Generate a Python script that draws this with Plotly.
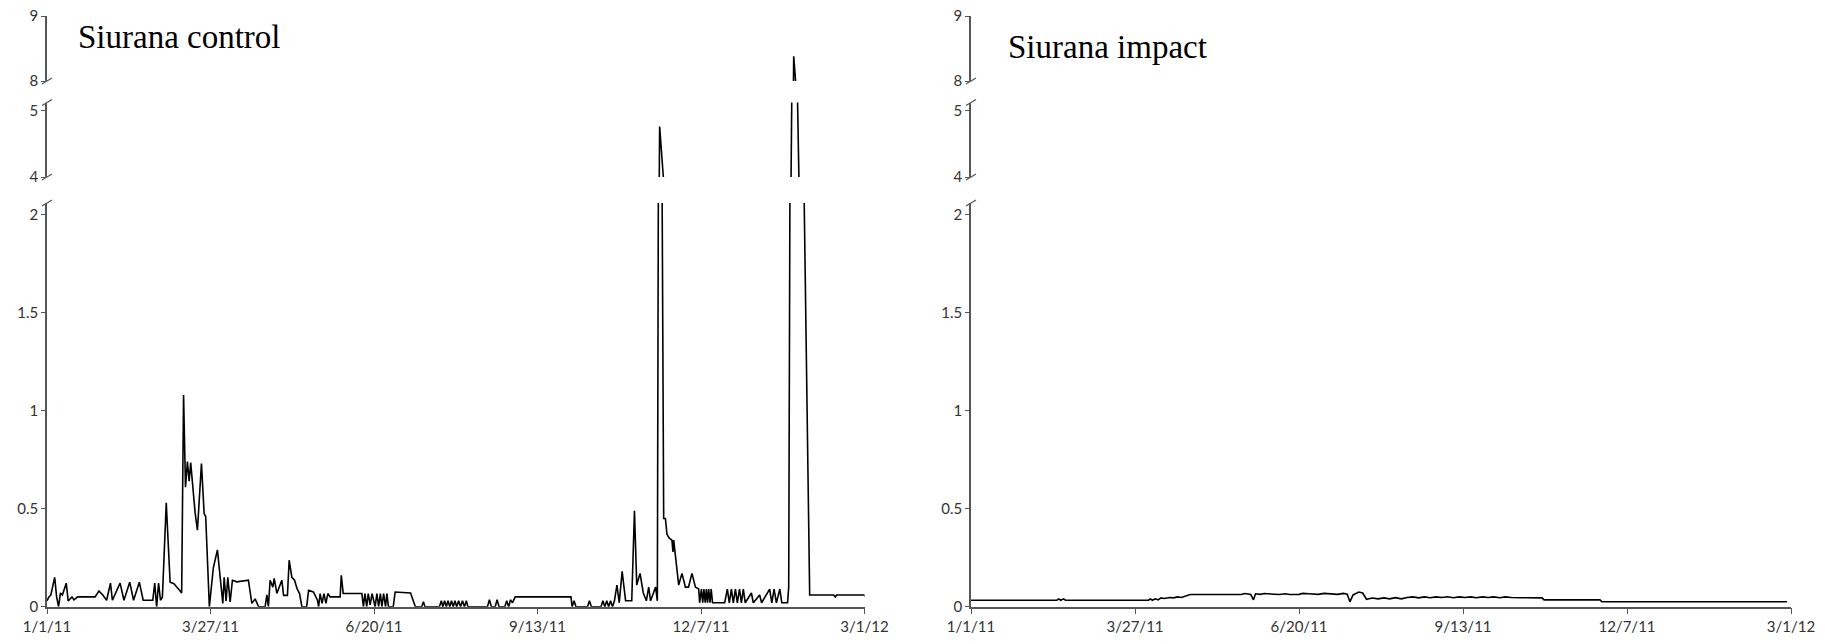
import pandas as pd
from plotly import graph_objs as go

# days after 1/1/11 and the value
control_day = [
    0, 1, 2, 4, 5, 6, 7, 8, 10, 11, 13, 14, 16, 25, 27, 29, 31, 33, 34, 38, 40, 43, 45, 48, 50,
    55, 56, 57, 58, 59, 60, 62, 64, 66, 69, 70, 71, 72, 73, 73.9, 74.7, 75.6, 77, 78.2, 80.3,
    81.7, 82.5, 84.4, 86.5, 88.6, 90.3, 91.4, 92.1, 93.1, 94, 95.2, 96.4, 98.7, 104.7, 106.5,
    108.2, 110, 113.4, 114.3, 115.1, 116, 117.4, 118.1, 119.5, 122.1, 123, 125, 125.9, 127.3,
    128.7, 130, 131.3, 132.5, 135, 136, 138.5, 140.6, 141.2, 142, 143, 144, 145, 146, 147.2,
    152.4, 153, 154, 163.7, 164.5, 165.3, 166.2, 167, 168, 169, 170.6, 171.5, 172.4, 173.3,
    174.1, 175, 176, 176.7, 177.5, 180, 181, 189, 191.5, 194.8, 195.7, 196.5, 204, 205, 205.8,
    206.7, 207.6, 208.5, 209.4, 210.3, 211.2, 212.1, 213, 214, 215, 216, 217, 218, 218.8, 229,
    230, 231, 233, 234, 235, 238, 239, 240, 241, 242, 243.4, 272.4, 273, 274, 275, 281, 282,
    283, 288, 289, 290, 291, 292, 293, 294, 295, 296.3, 297.5, 299, 300.8, 304, 305.4, 306.6,
    308.3, 310, 311.6, 312.8, 313.8, 316.4, 317.3, 318.5, 320.6, 321.5, 322.3, 323.5, 324.9,
    325.4, 325.8, 328.4, 330.1, 331.9, 333.5, 335.3, 337.1, 338.8, 339.3, 340.2, 340.9, 341.5,
    342.2, 342.8, 343.4, 344, 344.7, 345.3, 346, 352.3, 353.7, 354.7, 355.8, 356.8, 357.9,
    358.9, 360, 361, 362, 363, 366.2, 367.2, 370.5, 371.5, 375.7, 376.8, 378, 379.2, 381,
    382, 385, 385.6, 388.2, 390.9, 396.5, 409, 409.8, 410.5, 425, 425.5,
]
control_val = [
    0.03, 0.05, 0.06, 0.15, 0.05, 0.0, 0.07, 0.06, 0.12, 0.03, 0.05, 0.035, 0.05, 0.05, 0.08,
    0.06, 0.033, 0.12, 0.033, 0.12, 0.033, 0.125, 0.033, 0.125, 0.033, 0.033, 0.12, 0.0, 0.12,
    0.033, 0.05, 0.53, 0.125, 0.117, 0.083, 0.07, 1.08, 0.61, 0.74, 0.64, 0.735, 0.625, 0.48,
    0.39, 0.73, 0.475, 0.46, 0.0, 0.2, 0.29, 0.135, 0.017, 0.15, 0.03, 0.15, 0.025, 0.135,
    0.127, 0.135, 0.017, 0.04, 0.0, 0.0, 0.06, 0.0, 0.135, 0.1, 0.145, 0.068, 0.135, 0.058,
    0.058, 0.237, 0.15, 0.135, 0.092, 0.067, 0.0, 0.0, 0.083, 0.075, 0.033, 0.0, 0.067, 0.017,
    0.067, 0.017, 0.067, 0.05, 0.05, 0.16, 0.067, 0.067, 0.0, 0.067, 0.0, 0.067, 0.01, 0.067,
    0.0, 0.067, 0.0, 0.067, 0.0, 0.067, 0.0, 0.067, 0.0, 0.0, 0.075, 0.07, 0.0, 0.0, 0.025,
    0.0, 0.0, 0.03, 0.0, 0.03, 0.0, 0.03, 0.0, 0.03, 0.0, 0.03, 0.0, 0.03, 0.0, 0.03, 0.0,
    0.03, 0.0, 0.0, 0.035, 0.0, 0.0, 0.035, 0.0, 0.0, 0.03, 0.0, 0.035, 0.02, 0.05, 0.05, 0.0,
    0.03, 0.0, 0.0, 0.03, 0.0, 0.0, 0.03, 0.0, 0.03, 0.0, 0.03, 0.0, 0.03, 0.11, 0.02, 0.18,
    0.03, 0.03, 0.49, 0.11, 0.17, 0.07, 0.03, 0.1, 0.03, 0.1, 0.03, 4.76, 0.45, 0.45, 0.37,
    0.35, 0.34, 0.28, 0.34, 0.11, 0.17, 0.1, 0.1, 0.17, 0.1, 0.09, 0.02, 0.09, 0.02, 0.09,
    0.02, 0.09, 0.02, 0.09, 0.02, 0.09, 0.02, 0.02, 0.09, 0.02, 0.09, 0.02, 0.09, 0.02, 0.09,
    0.02, 0.09, 0.02, 0.07, 0.02, 0.06, 0.02, 0.09, 0.02, 0.09, 0.02, 0.09, 0.02, 0.02, 0.1,
    8.38, 4.0, 0.06, 0.06, 0.05, 0.06, 0.06, 0.05,
]

impact_day = [
    0, 44.5, 45.5, 46.5, 48, 49, 92, 93, 94, 95.5, 97, 98.5, 100, 103, 105, 107, 109, 111,
    113.6, 140, 142, 145, 146.4, 147.5, 150, 152, 155, 160, 163, 165, 170, 172, 175, 180, 183,
    187, 190, 193, 195, 196.4, 198, 201, 203, 205, 208, 211, 214, 217, 220, 223, 226, 229, 232,
    235, 238, 241, 244, 247, 250, 253, 256, 259, 262, 265, 268, 271, 274, 277, 280, 285, 296,
    297, 326, 327, 423,
]
impact_val = [
    0.033, 0.033, 0.04, 0.033, 0.04, 0.033, 0.033, 0.04, 0.033, 0.04, 0.035, 0.045, 0.042,
    0.047, 0.045, 0.05, 0.047, 0.055, 0.062, 0.062, 0.067, 0.062, 0.035, 0.066, 0.063, 0.067,
    0.064, 0.062, 0.066, 0.062, 0.063, 0.068, 0.066, 0.063, 0.068, 0.066, 0.063, 0.068, 0.064,
    0.025, 0.06, 0.075, 0.07, 0.038, 0.044, 0.04, 0.045, 0.04, 0.046, 0.04, 0.047, 0.05, 0.045,
    0.05, 0.046, 0.05, 0.047, 0.051, 0.046, 0.05, 0.047, 0.05, 0.046, 0.05, 0.047, 0.05, 0.046,
    0.05, 0.047, 0.046, 0.045, 0.035, 0.035, 0.025, 0.025,
]

tick_dates = ['2011-01-01', '2011-03-27', '2011-06-20', '2011-09-13', '2011-12-07', '2012-03-01']
tick_text = ['1/1/11', '3/27/11', '6/20/11', '9/13/11', '12/7/11', '3/1/12']
panel_titles = ['Siurana control', 'Siurana impact']

# broken y axis pieces: (range, tick values)
segments = [([0, 2.06], [0, 0.5, 1, 1.5, 2]), ([4, 5.12], [4, 5]), ([8, 9], [8, 9])]

W, H = 1825, 644


def py(pix):
    return 1 - pix / H


seg_dom = [[py(606.7), py(203)], [py(177), py(102.5)], [py(81), py(16)]]
x_dom = [[47 / W, 864.5 / W], [971 / W, 1791 / W]]
title_pos = [(76 / W, py(37)), (1006 / W, py(47))]

base = pd.Timestamp('2011-01-01')
series = [
    (base + pd.to_timedelta(control_day, unit='D'), control_val),
    (base + pd.to_timedelta(impact_day, unit='D'), impact_val),
]

axis_col = '#555555'
tick_font = dict(family='Lato, Arial', size=15, color='#333333')

fig = go.Figure()
layout = dict(
    width=W, height=H, margin=dict(l=0, r=0, t=0, b=0, autoexpand=False),
    paper_bgcolor='white', plot_bgcolor='white', showlegend=False,
)
shapes = []
annotations = []

for p, (xs, ys) in enumerate(series):
    xname = 'x' if p == 0 else 'x2'
    xkey = 'xaxis' if p == 0 else 'xaxis2'
    first_y = 1 + 3 * p
    layout[xkey] = dict(
        domain=x_dom[p], anchor='y' if p == 0 else 'y4', type='date',
        range=['2011-01-01', '2012-03-01'], tickvals=tick_dates, ticktext=tick_text,
        showline=True, linecolor=axis_col, linewidth=1.5, ticks='outside', ticklen=6,
        tickcolor=axis_col, showgrid=False, zeroline=False, tickfont=tick_font,
        automargin=False,
    )
    for s, (rng, tv) in enumerate(segments):
        n = first_y + s
        yname = 'y' if n == 1 else 'y%d' % n
        ykey = 'yaxis' if n == 1 else 'yaxis%d' % n
        layout[ykey] = dict(
            domain=seg_dom[s], anchor=xname, range=rng, tickvals=tv,
            showline=True, linecolor=axis_col, linewidth=1.5, ticks='outside', ticklen=4,
            tickcolor=axis_col, showgrid=False, zeroline=False, tickfont=tick_font,
            automargin=False,
        )
        fig.add_trace(go.Scatter(
            x=xs, y=ys, xaxis=xname, yaxis=yname, mode='lines',
            line=dict(color='black', width=1.6), hoverinfo='skip',
        ))
    # little break marks where the axis is cut
    for yy in [seg_dom[0][1], seg_dom[1][0], seg_dom[1][1], seg_dom[2][0]]:
        shapes.append(dict(
            type='line', xref='paper', yref='paper', xsizemode='pixel', ysizemode='pixel',
            xanchor=x_dom[p][0], yanchor=yy, x0=-5, x1=5, y0=-3, y1=3,
            line=dict(color=axis_col, width=1.3),
        ))
    annotations.append(dict(
        text=panel_titles[p], xref='paper', yref='paper', x=title_pos[p][0], y=title_pos[p][1],
        xanchor='left', yanchor='middle', showarrow=False,
        font=dict(family='Liberation Serif, Times New Roman', size=33, color='black'),
    ))

layout['shapes'] = shapes
layout['annotations'] = annotations
fig.update_layout(**layout)

fig.write_html('out.html', config={'displayModeBar': False},
               post_script="document.body.style.margin='0';")
